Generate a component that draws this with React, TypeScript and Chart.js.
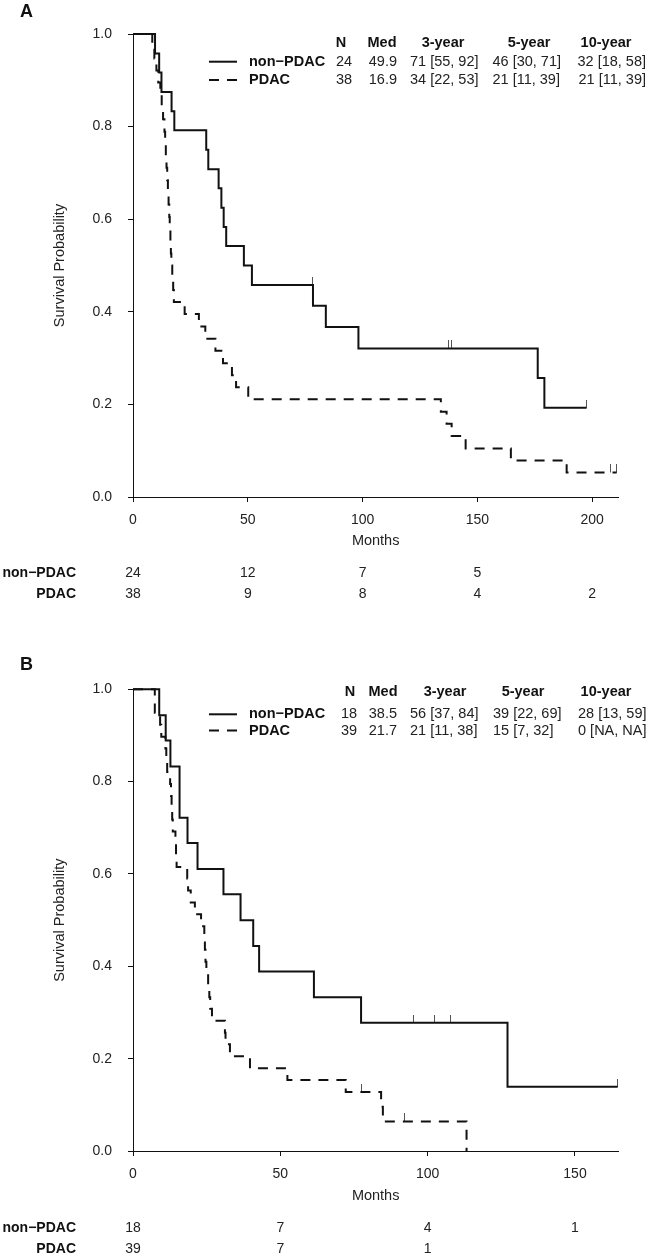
import React, { useEffect, useRef } from "react";
import { Chart, registerables } from "chart.js";

Chart.register(...registerables);

const FONT = '"Liberation Sans", Arial, Helvetica, sans-serif';
const INK = "#111111";
const TXT = "#222222";

const GROUPS = ["non\u2212PDAC", "PDAC"];
const TABLE_HEAD = ["N", "Med", "3-year", "5-year", "10-year"];
const Y_TICKS = [0, 0.2, 0.4, 0.6, 0.8, 1.0];

// ---------------- Panel A ----------------
const A_X_TICKS = [0, 50, 100, 150, 200];
const A_NON_T = [0, 9.6, 11.4, 12.4, 16.8, 18.0, 31.9, 32.8, 37.3, 38.5, 39.5, 40.6, 48.3, 51.8, 78.4, 84.0, 98.2, 176.3, 179.2, 197.6];
const A_NON_S = [1, 0.958, 0.917, 0.875, 0.833, 0.792, 0.75, 0.708, 0.667, 0.625, 0.583, 0.542, 0.5, 0.458, 0.413, 0.367, 0.321, 0.257, 0.193, 0.193];
const A_NON_CENS_T = [78.0, 137.3, 138.8, 197.6];
const A_NON_CENS_S = [0.458, 0.321, 0.321, 0.193];
const A_PDAC_T = [0, 8.4, 9.3, 10.2, 11.0, 11.9, 12.5, 13.1, 13.7, 14.0, 14.3, 14.6, 14.9, 15.2, 15.5, 15.8, 16.0, 16.3, 16.5, 16.7, 17.1, 17.5, 17.8, 22.5, 28.7, 31.5, 35.9, 39.2, 43.1, 44.9, 50.2, 134.1, 136.6, 138.8, 144.9, 164.6, 188.9, 210.7];
const A_PDAC_S = [1, 0.974, 0.947, 0.921, 0.895, 0.868, 0.842, 0.816, 0.789, 0.763, 0.737, 0.711, 0.684, 0.658, 0.632, 0.605, 0.579, 0.553, 0.526, 0.5, 0.474, 0.447, 0.421, 0.395, 0.368, 0.342, 0.316, 0.289, 0.263, 0.237, 0.211, 0.184, 0.158, 0.132, 0.105, 0.079, 0.053, 0.053];
const A_PDAC_CENS_T = [207.8, 210.7];
const A_PDAC_CENS_S = [0.053, 0.053];
const A_ROW_NON = ["24", "49.9", "71 [55, 92]", "46 [30, 71]", "32 [18, 58]"];
const A_ROW_PDAC = ["38", "16.9", "34 [22, 53]", "21 [11, 39]", "21 [11, 39]"];
const A_RISK_NON = ["24", "12", "7", "5", ""];
const A_RISK_PDAC = ["38", "9", "8", "4", "2"];

// ---------------- Panel B ----------------
const B_X_TICKS = [0, 50, 100, 150];
const B_NON_T = [0, 8.9, 11.1, 12.7, 15.8, 18.5, 21.9, 30.7, 36.5, 40.8, 42.8, 61.4, 77.4, 127.1, 164.5];
const B_NON_S = [1, 0.944, 0.889, 0.833, 0.722, 0.667, 0.611, 0.556, 0.5, 0.444, 0.389, 0.333, 0.278, 0.139, 0.139];
const B_NON_CENS_T = [95.1, 102.2, 107.6, 164.5];
const B_NON_CENS_S = [0.278, 0.278, 0.278, 0.139];
const B_PDAC_T = [0, 7.4, 9.2, 9.6, 11.0, 11.3, 11.6, 12.6, 12.9, 13.1, 13.3, 13.5, 14.4, 14.6, 14.8, 18.4, 18.7, 19.6, 21.0, 23.1, 24.2, 24.4, 24.6, 24.9, 25.5, 25.9, 26.2, 26.8, 31.2, 31.4, 32.9, 39.7, 52.4, 72.2, 84.2, 84.8, 113.2];
const B_PDAC_S = [1, 0.949, 0.923, 0.897, 0.872, 0.846, 0.821, 0.795, 0.769, 0.744, 0.718, 0.692, 0.667, 0.641, 0.615, 0.59, 0.564, 0.538, 0.513, 0.487, 0.462, 0.436, 0.41, 0.385, 0.359, 0.333, 0.308, 0.282, 0.256, 0.231, 0.205, 0.179, 0.154, 0.128, 0.096, 0.064, 0];
const B_PDAC_CENS_T = [77.6, 92.3];
const B_PDAC_CENS_S = [0.128, 0.064];
const B_ROW_NON = ["18", "38.5", "56 [37, 84]", "39 [22, 69]", "28 [13, 59]"];
const B_ROW_PDAC = ["39", "21.7", "21 [11, 38]", "15 [7, 32]", "0 [NA, NA]"];
const B_RISK_NON = ["18", "7", "4", "1"];
const B_RISK_PDAC = ["39", "7", "1", ""];

const CELL_ALIGN: CanvasTextAlign[] = ["left", "right", "left", "left", "right"];

type PanelCfg = {
  letter: string;
  letterY: number;
  height: number;
  top: number;
  bottom: number;
  left: number;
  right: number;
  xMax: number;
  xTicks: number[];
  nonT: number[];
  nonS: number[];
  nonCT: number[];
  nonCS: number[];
  pdT: number[];
  pdS: number[];
  pdCT: number[];
  pdCS: number[];
  rowNon: string[];
  rowPd: string[];
  headY: number;
  rowY: number[];
  headX: number[];
  cellX: number[];
  riskNon: string[];
  riskPd: string[];
  riskY: number[];
  monthsY: number;
};

const PANEL_A: PanelCfg = {
  letter: "A",
  letterY: 12.5,
  height: 630,
  top: 34,
  bottom: 497,
  left: 133,
  right: 618.3,
  xMax: 211.4,
  xTicks: A_X_TICKS,
  nonT: A_NON_T,
  nonS: A_NON_S,
  nonCT: A_NON_CENS_T,
  nonCS: A_NON_CENS_S,
  pdT: A_PDAC_T,
  pdS: A_PDAC_S,
  pdCT: A_PDAC_CENS_T,
  pdCS: A_PDAC_CENS_S,
  rowNon: A_ROW_NON,
  rowPd: A_ROW_PDAC,
  headY: 42.7,
  rowY: [61.7, 80],
  headX: [341, 382, 443, 529, 606],
  cellX: [336, 397, 410, 492.5, 646],
  riskNon: A_RISK_NON,
  riskPd: A_RISK_PDAC,
  riskY: [572.7, 594],
  monthsY: 540.7,
};

const PANEL_B: PanelCfg = {
  letter: "B",
  letterY: 35,
  height: 629,
  top: 59.3,
  bottom: 521,
  left: 133,
  right: 618.3,
  xMax: 164.7,
  xTicks: B_X_TICKS,
  nonT: B_NON_T,
  nonS: B_NON_S,
  nonCT: B_NON_CENS_T,
  nonCS: B_NON_CENS_S,
  pdT: B_PDAC_T,
  pdS: B_PDAC_S,
  pdCT: B_PDAC_CENS_T,
  pdCS: B_PDAC_CENS_S,
  rowNon: B_ROW_NON,
  rowPd: B_ROW_PDAC,
  headY: 62.3,
  rowY: [84.3, 100.5],
  headX: [350, 383, 445, 523, 606],
  cellX: [341, 397, 410, 493, 646.5],
  riskNon: B_RISK_NON,
  riskPd: B_RISK_PDAC,
  riskY: [597.7, 619],
  monthsY: 565.7,
};

function makeCensorTick(): HTMLCanvasElement {
  const c = document.createElement("canvas");
  c.width = 1;
  c.height = 16;
  const g = c.getContext("2d");
  if (g) {
    g.fillStyle = "#555555";
    g.fillRect(0, 0, 1, 8);
  }
  return c;
}

function toPoints(T: number[], S: number[]) {
  return T.map((t, i) => ({ x: t, y: S[i] }));
}

function Panel({ cfg }: { cfg: PanelCfg }) {
  const ref = useRef<HTMLCanvasElement | null>(null);

  useEffect(() => {
    const canvas = ref.current;
    if (!canvas) return;
    const tick = makeCensorTick();

    const decor = {
      id: "kmDecor",
      afterDraw(chart: any) {
        const ctx = chart.ctx as CanvasRenderingContext2D;
        const area = chart.chartArea;
        const xs = chart.scales.x;
        ctx.save();
        ctx.textBaseline = "middle";

        // panel letter
        ctx.fillStyle = INK;
        ctx.font = `bold 18px ${FONT}`;
        ctx.textAlign = "left";
        ctx.fillText(cfg.letter, 20, cfg.letterY);

        // axis titles
        ctx.fillStyle = TXT;
        ctx.font = `14.5px ${FONT}`;
        ctx.save();
        ctx.translate(60, (area.top + area.bottom) / 2);
        ctx.rotate(-Math.PI / 2);
        ctx.textAlign = "center";
        ctx.fillText("Survival Probability", 0, 0);
        ctx.restore();
        ctx.textAlign = "center";
        ctx.fillText("Months", (area.left + area.right) / 2, cfg.monthsY);

        // legend keys
        ctx.strokeStyle = INK;
        ctx.lineWidth = 2;
        ctx.setLineDash([]);
        ctx.beginPath();
        ctx.moveTo(209, cfg.rowY[0]);
        ctx.lineTo(237, cfg.rowY[0]);
        ctx.stroke();
        ctx.setLineDash([10, 8]);
        ctx.beginPath();
        ctx.moveTo(209, cfg.rowY[1]);
        ctx.lineTo(237, cfg.rowY[1]);
        ctx.stroke();
        ctx.setLineDash([]);

        // legend labels + header
        ctx.fillStyle = INK;
        ctx.font = `bold 14.5px ${FONT}`;
        ctx.textAlign = "left";
        ctx.fillText(GROUPS[0], 249, cfg.rowY[0]);
        ctx.fillText(GROUPS[1], 249, cfg.rowY[1]);
        ctx.textAlign = "center";
        TABLE_HEAD.forEach((h, i) => ctx.fillText(h, cfg.headX[i], cfg.headY));

        // legend table cells
        ctx.fillStyle = TXT;
        ctx.font = `14.5px ${FONT}`;
        [cfg.rowNon, cfg.rowPd].forEach((row, r) => {
          row.forEach((v, i) => {
            ctx.textAlign = CELL_ALIGN[i];
            ctx.fillText(v, cfg.cellX[i], cfg.rowY[r]);
          });
        });

        // number at risk table
        ctx.fillStyle = INK;
        ctx.font = `bold 14px ${FONT}`;
        ctx.textAlign = "right";
        ctx.fillText(GROUPS[0], 76, cfg.riskY[0]);
        ctx.fillText(GROUPS[1], 76, cfg.riskY[1]);
        ctx.fillStyle = TXT;
        ctx.font = `14px ${FONT}`;
        ctx.textAlign = "center";
        cfg.xTicks.forEach((t, i) => {
          const px = xs.getPixelForValue(t);
          if (cfg.riskNon[i]) ctx.fillText(cfg.riskNon[i], px, cfg.riskY[0]);
          if (cfg.riskPd[i]) ctx.fillText(cfg.riskPd[i], px, cfg.riskY[1]);
        });
        ctx.restore();
      },
    };

    const chart = new Chart(canvas, {
      type: "line",
      data: {
        datasets: [
          {
            label: GROUPS[0],
            data: toPoints(cfg.nonT, cfg.nonS),
            stepped: true,
            borderColor: INK,
            borderWidth: 2,
            pointRadius: 0,
            fill: false,
            clip: false,
          } as any,
          {
            label: GROUPS[1],
            data: toPoints(cfg.pdT, cfg.pdS),
            stepped: true,
            borderColor: INK,
            borderWidth: 2,
            borderDash: [10, 8],
            pointRadius: 0,
            fill: false,
            clip: false,
          } as any,
          {
            type: "scatter",
            label: "censor-non",
            data: toPoints(cfg.nonCT, cfg.nonCS),
            showLine: false,
            pointStyle: tick,
            pointRadius: 4,
            clip: false,
          } as any,
          {
            type: "scatter",
            label: "censor-pdac",
            data: toPoints(cfg.pdCT, cfg.pdCS),
            showLine: false,
            pointStyle: tick,
            pointRadius: 4,
            clip: false,
          } as any,
        ],
      },
      options: {
        animation: false,
        responsive: false,
        maintainAspectRatio: false,
        events: [],
        layout: {
          padding: { left: 0, top: cfg.top, right: 650 - cfg.right, bottom: 0 },
        },
        plugins: {
          legend: { display: false },
          tooltip: { enabled: false },
          title: { display: false },
        },
        scales: {
          x: {
            type: "linear",
            min: 0,
            max: cfg.xMax,
            afterBuildTicks: (s: any) => {
              s.ticks = cfg.xTicks.map((v) => ({ value: v }));
            },
            afterFit: (s: any) => {
              s.height = cfg.height - cfg.bottom;
            },
            grid: {
              drawOnChartArea: false,
              drawTicks: true,
              tickLength: 5,
              color: INK,
              tickColor: INK,
            },
            border: { display: true, color: INK, width: 1 },
            ticks: {
              padding: 10,
              color: TXT,
              font: { family: FONT, size: 14 },
              maxRotation: 0,
              autoSkip: false,
              callback: (v: any) => String(v),
            },
          },
          y: {
            type: "linear",
            min: 0,
            max: 1,
            afterBuildTicks: (s: any) => {
              s.ticks = Y_TICKS.map((v) => ({ value: v }));
            },
            afterFit: (s: any) => {
              s.width = cfg.left;
            },
            grid: {
              drawOnChartArea: false,
              drawTicks: true,
              tickLength: 5,
              color: INK,
              tickColor: INK,
            },
            border: { display: true, color: INK, width: 1 },
            ticks: {
              padding: 16,
              color: TXT,
              font: { family: FONT, size: 14 },
              autoSkip: false,
              callback: (v: any) => Number(v).toFixed(1),
            },
          },
        },
      } as any,
      plugins: [decor],
    });

    return () => {
      chart.destroy();
    };
  }, [cfg]);

  return (
    <canvas
      ref={ref}
      width={650}
      height={cfg.height}
      style={{ display: "block", width: 650, height: cfg.height }}
    />
  );
}

export default function App() {
  return (
    <div
      style={{
        position: "absolute",
        left: 0,
        top: 0,
        width: 650,
        height: 1259,
        background: "#ffffff",
        overflow: "hidden",
      }}
    >
      <Panel cfg={PANEL_A} />
      <Panel cfg={PANEL_B} />
    </div>
  );
}
